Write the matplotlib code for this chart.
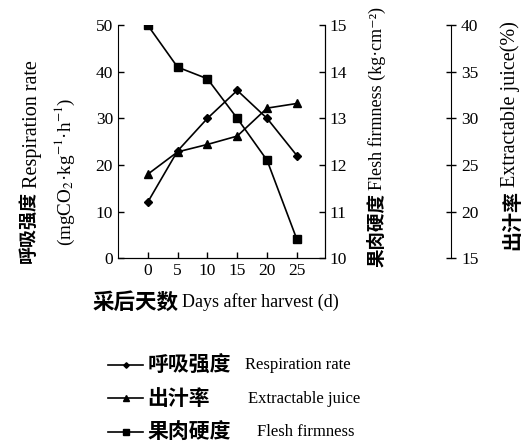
import matplotlib
matplotlib.use('Agg')
import matplotlib.pyplot as plt

plt.rcParams['font.family'] = ['Liberation Serif', 'DejaVu Serif', 'Noto Sans CJK SC']
plt.rcParams['mathtext.fontset'] = 'stix'

# data
days = [0, 5, 10, 15, 20, 25]
respiration = [12, 23, 30, 36, 30, 22]          # mgCO2/kg/h, left axis
firmness = [15.0, 14.1, 13.85, 13.0, 12.1, 10.4]  # kg/cm2, right axis
juice = [24.0, 26.4, 27.2, 28.1, 31.1, 31.6]    # %, outer right axis

cn_names = ['呼吸强度', '出汁率', '果肉硬度']
en_names = ['Respiration rate', 'Extractable juice', 'Flesh firmness']

W, H = 531, 442
fig = plt.figure(figsize=(W / 100, H / 100), dpi=100)
ax = fig.add_axes([0.222, 0.416, 0.390, 0.527])
ax2 = ax.twinx()
ax3 = ax.twinx()

l1, = ax.plot(days, respiration, color='black', lw=1.2, marker='D', ms=4)
l2, = ax3.plot(days, juice, color='black', lw=1.2, marker='^', ms=6)
l3, = ax2.plot(days, firmness, color='black', lw=1.2, marker='s', ms=6)

ax.set_xlim(-5, 29.7)
ax.set_ylim(0, 50)
ax2.set_ylim(10, 15)
ax3.set_ylim(15, 40)

ax.set_xticks(days)
ax.set_yticks(range(0, 51, 10))
ax2.set_yticks(range(10, 16))
ax3.set_yticks(range(15, 41, 5))

for a in (ax, ax2, ax3):
    a.spines['top'].set_visible(False)
    a.tick_params(labelsize=12.5, width=1, length=4)
ax.tick_params(axis='both', direction='in')
ax2.tick_params(axis='y', direction='in')
ax3.tick_params(axis='y', direction='inout', length=7)
ax3.spines['right'].set_position(('axes', 1.61))
ax3.spines['left'].set_visible(False)
ax3.spines['bottom'].set_visible(False)
ax2.spines['left'].set_visible(False)

CN = ['Noto Sans CJK SC']


def px(x, y):
    # pixel position (from top-left) to figure fraction
    return x / W, 1 - y / H


def label_pair(x, y, cn_txt, en_txt, cn_size, en_size, vertical, gap=4, en_dx=0):
    rot = 90 if vertical else 0
    fx, fy = px(x, y)
    if vertical:
        t = fig.text(fx, fy, cn_txt, rotation=rot, ha='center', va='bottom',
                     fontsize=cn_size, fontweight='bold', family=CN)
    else:
        t = fig.text(fx, fy, cn_txt, ha='left', va='center',
                     fontsize=cn_size, fontweight='bold', family=CN)
    fig.canvas.draw()
    bb = t.get_window_extent()
    if vertical:
        ex, ey = px(x + en_dx, H - bb.y1 - gap)
        fig.text(ex, ey, en_txt, rotation=rot, ha='center', va='bottom',
                 fontsize=en_size)
    else:
        ex, ey = px(bb.x1 + gap, y)
        fig.text(ex, ey, en_txt, ha='left', va='center', fontsize=en_size)


label_pair(93, 302, '采后天数', 'Days after harvest (d)', 15.5, 13, False, gap=3)
label_pair(28, 263, '呼吸强度', 'Respiration rate', 13, 14.5, True, gap=3, en_dx=4)
label_pair(377, 267, '果肉硬度', 'Flesh firmness (kg·cm⁻²)', 13.3, 13, True, gap=3)
label_pair(512, 250, '出汁率', 'Extractable juice(%)', 14.4, 14.5, True, gap=3, en_dx=-2)

ux, uy = px(65, 172)
fig.text(ux, uy, '(mgCO$_2$·kg$^{-1}$·h$^{-1}$)', rotation=90,
         ha='center', va='center', fontsize=13.8)

# legend: Chinese names in the legend, English names beside them
handles = [l1, l2, l3]
leg = fig.legend(handles, cn_names, loc='upper left',
                 bbox_to_anchor=(108 / W, 0.197), frameon=False,
                 prop=dict(size=15, weight='bold', family='Noto Sans CJK SC'),
                 handlelength=1.68, handletextpad=0.2, labelspacing=0.6,
                 borderpad=0, borderaxespad=0, markerscale=0.7)
fig.canvas.draw()
inv = fig.transFigure.inverted()
en_x = [245, 248, 257]
for t, name, x in zip(leg.get_texts(), en_names, en_x):
    bb = t.get_window_extent()
    yc = inv.transform((0, (bb.y0 + bb.y1) / 2))[1]
    fig.text(x / W, yc, name, ha='left', va='center', fontsize=12)

fig.savefig('out.png', dpi=100)
